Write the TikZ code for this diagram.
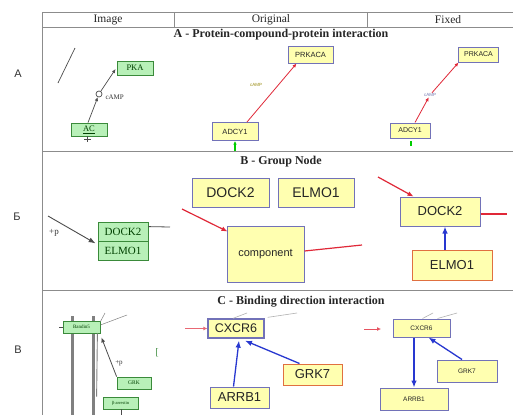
\documentclass[tikz,border=0pt]{standalone}
\usepackage{fontspec}
\setmainfont{Liberation Serif}
\newfontfamily\sansf{Liberation Sans}
\usetikzlibrary{arrows.meta,calc}
\definecolor{yfill}{HTML}{FFFFB0}
\definecolor{bborder}{HTML}{7272B8}
\definecolor{oborder}{HTML}{E07040}
\definecolor{gfill}{HTML}{B8F0B8}
\definecolor{gborder}{HTML}{3A8A3A}
\definecolor{redl}{HTML}{E02838}
\definecolor{bluel}{HTML}{2838D0}
\definecolor{framec}{HTML}{8C8C8C}
\newcommand{\fs}[1]{\fontsize{#1}{#1}\selectfont}
\begin{document}
\begin{tikzpicture}[x=1pt,y=-1pt,
  frame/.style={draw=framec,line width=0.9pt},
  ybox/.style={draw=bborder,fill=yfill,line width=1pt,inner sep=0pt,font=\sansf,text=black!85},
  obox/.style={ybox,draw=oborder},
  gbox/.style={draw=gborder,fill=gfill,line width=0.8pt,inner sep=0pt,text=green!25!black},
  redarr/.style={draw=redl,line width=1pt,-{Latex[length=6pt,width=5pt]}},
  redline/.style={draw=redl,line width=1pt},
  bluearr/.style={draw=bluel,line width=1.3pt,-{Latex[length=7pt,width=5.5pt]}},
  imgline/.style={draw=black!70,line width=0.7pt},
  imgarr/.style={imgline,-{Latex[length=4pt,width=3.5pt]}},
  faint/.style={draw=black!30,line width=0.6pt},
  lbl/.style={font=\sansf\fs{11},text=black!80}]
\useasboundingbox (0,0) rectangle (513,415);
\fill[white] (0,0) rectangle (513,415);
% table frame
\draw[frame] (42,12) -- (513,12);
\draw[frame] (42,27) -- (513,27);
\draw[frame] (42,151) -- (513,151);
\draw[frame] (42,290) -- (513,290);
\draw[frame] (42,12) -- (42,415);
\draw[frame] (174,12) -- (174,27);
\draw[frame] (367,12) -- (367,27);
% headers
\node[font=\fs{11.5},text=black!85] (hImg) at (108,19.5) {Image};
\node[font=\fs{11.5},text=black!85] (hOrig) at (271,19.5) {Original};
\node[font=\fs{11.5},text=black!85] (hFix) at (448,19.5) {Fixed};
% titles
\node[font=\bfseries\fs{12},text=black!85] (tA) at (281,35) {A - Protein-compound-protein interaction};
\node[font=\bfseries\fs{12},text=black!85] (tB) at (281,162) {B - Group Node};
\node[font=\bfseries\fs{12},text=black!85] (tC) at (301,302) {C - Binding direction interaction};
% row labels
\node[lbl] (lA) at (18,74) {А};
\node[lbl] (lB) at (17,217) {Б};
\node[lbl] (lC) at (18,350) {В};

% ===== Row A, image
\coordinate (slA) at (58,83);
\coordinate (slB) at (75,48);
\draw[imgline] (slA) -- (slB);
\node[gbox,minimum width=36pt,minimum height=14pt,font=\fs{8.5}] (pkaI) at (135,68) {PKA};
\node[gbox,minimum width=36pt,minimum height=13pt,font=\fs{8.5}] (acI) at (89,129.5) {\underline{AC}};
\node[circle,draw=black!70,line width=0.7pt,minimum size=6pt,inner sep=0pt] (campI) at (99,94) {};
\node[font=\fs{7},anchor=west,text=black!80] (campIt) at (102,97) {cAMP};
\draw[imgarr] ($(acI.north)+(-1,0)$) -- (campI);
\draw[imgarr] (campI) -- ($(pkaI.west)+(-1,1)$);
\coordinate (tbA) at (84,139.5);
\coordinate (tbB) at (91,139.5);
\coordinate (tbC) at (87.5,142);
\draw[imgline,line width=0.5pt] (tbA) -- (tbB);
\draw[imgline,line width=0.5pt] (acI.south -| tbC) -- (tbC);

% ===== Row A, original
\node[ybox,minimum width=45pt,minimum height=17pt,font=\sansf\fs{7.5}] (prkO) at (310.5,54.5) {PRKACA};
\node[ybox,minimum width=46pt,minimum height=18pt,font=\sansf\fs{7.5}] (adcO) at (235,131.5) {ADCY1};
\node[font=\sansf\fs{4.5},text=olive!80!brown] (campO) at (256,85) {cAMP};
\draw[redarr,line width=0.8pt,-{Latex[length=4pt,width=3.5pt]}] ($(adcO.north)+(12,0)$) -- ($(prkO.south)+(-14,0)$);
\coordinate (gO) at (235,151);
\draw[draw=green!80!black,line width=1.2pt,-{Latex[length=3.5pt,width=3.5pt]}] (gO) -- (adcO.south);

% ===== Row A, fixed
\node[ybox,minimum width=40pt,minimum height=15pt,font=\sansf\fs{7}] (prkF) at (478.5,54.5) {PRKACA};
\node[ybox,minimum width=40pt,minimum height=15pt,font=\sansf\fs{7}] (adcF) at (410,130.5) {ADCY1};
\node[font=\sansf\fs{4.5},text=bluel!60!black!60,inner sep=0.5pt] (campF) at (430,95) {cAMP};
\draw[redarr,line width=0.8pt,-{Latex[length=4pt,width=3.5pt]}] ($(adcF.north)+(5,0)$) -- (campF);
\draw[redarr,line width=0.8pt,-{Latex[length=4pt,width=3.5pt]}] (campF) -- ($(prkF.south)+(-20,0)$);
\coordinate (gF) at (411,146);
\draw[draw=green!80!black,line width=1.5pt] (gF) -- ($(adcF.south -| gF)+(0,2)$);

% ===== Row B, image
\node[gbox,minimum width=50pt,minimum height=19pt,font=\fs{11}] (dockI) at (123,231.5) {DOCK2};
\node[gbox,minimum width=50pt,minimum height=19pt,font=\fs{11}] (elmoI) at (123,250.5) {ELMO1};
\coordinate (pBs) at (48,216);
\draw[imgline,line width=0.9pt,-{Latex[length=7pt,width=5pt]}] (pBs) -- ($(dockI.south west)+(-2,2)$);
\node[font=\fs{9},text=black!80] (pBt) at (54,233) {+p};
\coordinate (rBe) at (170,227);
\draw[imgline,line width=0.8pt] ($(dockI.north east)+(0,5)$) -- (rBe);

% ===== Row B, original
\node[ybox,minimum width=77pt,minimum height=29pt,font=\sansf\fs{14}] (dockO) at (230.5,192.5) {DOCK2};
\node[ybox,minimum width=76pt,minimum height=29pt,font=\sansf\fs{14}] (elmoO) at (316,192.5) {ELMO1};
\node[ybox,minimum width=77pt,minimum height=56pt,font=\sansf\fs{11}] (compO) at (265.5,254) {component};
\coordinate (rBO1) at (182,209);
\draw[redarr,line width=1.2pt] (rBO1) -- ($(compO.north west)+(1,6)$);
\coordinate (rBO2) at (362,245);
\draw[redline,line width=1.2pt] ($(compO.east)+(0,-3)$) -- (rBO2);

% ===== Row B, fixed
\node[ybox,minimum width=80pt,minimum height=29pt,font=\sansf\fs{13}] (dockF) at (440,211.5) {DOCK2};
\node[obox,minimum width=80pt,minimum height=30pt,font=\sansf\fs{13}] (elmoF) at (452,265) {ELMO1};
\coordinate (rBF1) at (378,177);
\draw[redarr,line width=1.2pt] (rBF1) -- ($(dockF.north west)+(14,0)$);
\coordinate (rBF2) at (507,214);
\draw[redline,line width=1.2pt] ($(dockF.east)+(0,2.5)$) -- (rBF2);
\draw[bluearr] (elmoF.north -| 445,0) -- (dockF.south -| 445,0);

% ===== Row C, image
\coordinate (vbL1) at (72,316);
\coordinate (vbL2) at (72,415);
\coordinate (vbR1) at (93,316);
\coordinate (vbR2) at (93,415);
\draw[draw=gray,line width=3pt] (vbL1) -- (vbL2);
\draw[draw=gray,line width=3pt] (vbR1) -- (vbR2);
\node[gbox,minimum width=37pt,minimum height=12pt,font=\fs{5}] (bandI) at (81.5,327) {Bandin5};
\coordinate (dashL) at (59,327);
\draw[imgline,line width=0.6pt] (dashL) -- (bandI.west);
\coordinate (upA) at (105,313);
\coordinate (upB) at (127,315);
\draw[imgline,draw=black!50,line width=0.5pt] ($(bandI.north east)+(0,1)$) -- (upA);
\draw[imgline,draw=black!50,line width=0.5pt] ($(bandI.east)+(0,-2)$) -- (upB);
\node[gbox,minimum width=34pt,minimum height=12pt,font=\fs{5.5}] (grkI) at (134,383) {GRK};
\node[gbox,minimum width=35pt,minimum height=12pt,font=\fs{4.5}] (barrI) at (120.5,403) {β-arrestin};
\draw[imgline,draw=gray,line width=0.9pt] ($(bandI.south east)+(-3,0)$) -- ($(barrI.north west)+(-6,0)$ |- barrI.north);
\draw[imgline,line width=0.8pt,-{Latex[length=5pt,width=4pt]}] (grkI.north west) -- ($(bandI.south east)+(1,4)$);
\node[font=\fs{7},text=black!80] (pCt) at (119,363) {+p};
\coordinate (tkC) at (121,415);
\draw[imgline,line width=0.6pt] (barrI.south -| tkC) -- (tkC);
\node[font=\fs{10},text=gborder] (brk) at (157,353) {[};

% ===== Row C, original
\node[ybox,line width=1.3pt,minimum width=56pt,minimum height=19pt,font=\sansf\fs{12.5}] (cxO) at (236,328.5) {CXCR6};
\node[obox,minimum width=59pt,minimum height=21pt,font=\sansf\fs{13}] (grkO) at (312.5,374.5) {GRK7};
\node[ybox,minimum width=59pt,minimum height=21pt,font=\sansf\fs{13}] (arrO) at (239.5,397.5) {ARRB1};
\coordinate (rCO) at (185,328.5);
\draw[redarr,draw=redl!70,line width=0.8pt,-{Latex[length=4pt,width=4pt]}] (rCO) -- (cxO.west);
\coordinate (fO1) at (247,313);
\coordinate (fO2) at (297,313);
\draw[faint] ($(cxO.north)+(-3,0)$) -- (fO1);
\draw[faint] ($(cxO.north east)+(3,-1)$) -- (fO2);
\draw[bluearr] ($(grkO.north west)+(17,0)$) -- ($(cxO.south)+(9,2)$);
\draw[bluearr] ($(arrO.north)+(-6,0)$) -- ($(cxO.south)+(3,2)$);

% ===== Row C, fixed
\node[ybox,minimum width=57pt,minimum height=18pt,font=\sansf\fs{6.5}] (cxF) at (421.5,328) {CXCR6};
\node[ybox,minimum width=60pt,minimum height=22pt,font=\sansf\fs{6.5}] (grkF) at (467,371) {GRK7};
\node[ybox,minimum width=68pt,minimum height=22pt,font=\sansf\fs{6.5}] (arrF) at (414,399) {ARRB1};
\coordinate (rCF1) at (364,329);
\coordinate (rCF2) at (381,329);
\draw[redarr,draw=redl!80,line width=0.8pt,-{Latex[length=4pt,width=4pt]}] (rCF1) -- (rCF2);
\coordinate (fF1) at (433,313);
\coordinate (fF2) at (457,313);
\draw[faint] ($(cxF.north)+(1,0)$) -- (fF1);
\draw[faint] ($(cxF.north east)+(-13,0)$) -- (fF2);
\draw[bluearr] ($(grkF.north)+(-5,0)$) -- ($(cxF.south)+(7,0)$);
\draw[bluearr] (cxF.south -| 414,0) -- (arrF.north -| 414,0);
\end{tikzpicture}
\end{document}
